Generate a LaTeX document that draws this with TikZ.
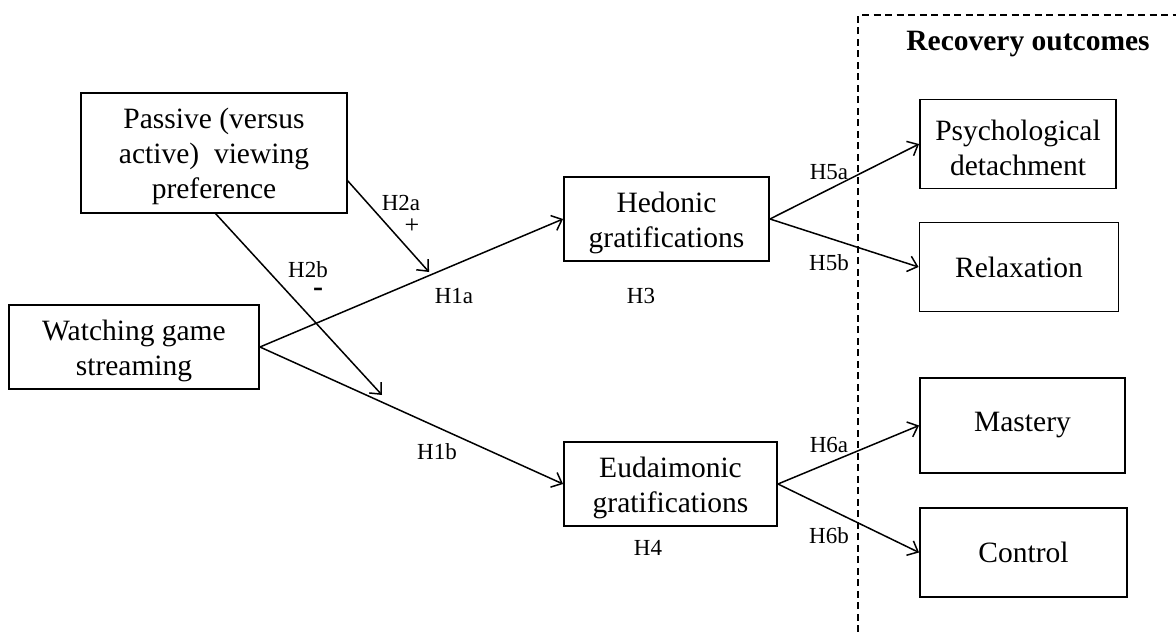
\documentclass[tikz,border=0pt]{standalone}
\usepackage{fontspec}
\setmainfont{Liberation Serif}
\usetikzlibrary{arrows.meta}
\newcommand\toprule{\rule{0pt}{28pt}}
\begin{document}
\begin{tikzpicture}[x=1pt,y=-1pt,
  box/.style={draw,line width=1.9pt,inner sep=0pt,align=center,font=\fontsize{29.5}{35}\selectfont},
  lbl/.style={inner sep=0pt,font=\fontsize{23}{26}\selectfont},
  arr/.style={line width=1.5pt,-{Straight Barb[length=9pt,width=16pt,line width=1.5pt]}},
  dsh/.style={line width=1.7pt,dash pattern=on 7pt off 4.5pt}]
\useasboundingbox (0,0) rectangle (1176,632);
\node[box,minimum width=266pt,minimum height=120pt] (pass) at (214,153) {\toprule Passive (versus\\active)\ \ viewing\\preference};
\node[box,minimum width=250pt,minimum height=84pt] (watch) at (134,347) {\toprule Watching game\\streaming};
\node[box,minimum width=205pt,minimum height=84pt] (hed) at (666.5,219) {\toprule Hedonic\\gratifications};
\node[box,minimum width=213pt,minimum height=84pt] (eud) at (670.5,484) {\toprule Eudaimonic\\gratifications};
\node[box,minimum width=196pt,minimum height=89pt] (psy) at (1018,144) {\toprule Psychological\\detachment};
\node[box,minimum width=199pt,minimum height=89pt] (rel) at (1019,267) {Relaxation};
\node[box,minimum width=205pt,minimum height=95pt] (mas) at (1022.5,425.5) {Mastery};
\node[box,minimum width=207pt,minimum height=89pt] (con) at (1023.5,552.5) {Control};
\node[inner sep=0pt,font=\fontsize{29.5}{35}\selectfont\bfseries] (rec) at (1028,44) {Recovery outcomes};
\coordinate (dtl) at (858,15);
\coordinate (dtr) at (1176,15);
\coordinate (dbl) at (858,632);
\draw[dsh] (dbl) -- (dtl) -- (dtr);
\coordinate (m1) at (429,272);
\coordinate (m2) at (382,395);
\coordinate (p1) at (347,180);
\coordinate (p2) at (215,213);
\draw[arr] (watch.east) -- (hed.west);
\draw[arr] (watch.east) -- (eud.west);
\draw[arr] (p1) -- (m1);
\draw[arr] (p2) -- (m2);
\draw[arr] (hed.east) -- (psy.west);
\draw[arr] (hed.east) -- (rel.west);
\draw[arr] (eud.east) -- (mas.west);
\draw[arr] (eud.east) -- (con.west);
\node[lbl] (h2a) at (401,203) {H2a};
\node[inner sep=0pt,font=\fontsize{26}{28}\selectfont] (plus) at (412,226) {+};
\node[lbl] (h2b) at (308,270) {H2b};
\node[inner sep=0pt,font=\fontsize{30}{30}\selectfont\bfseries] (minus) at (318,292) {-};
\node[lbl] (h1a) at (454,296) {H1a};
\node[lbl] (h3) at (641,296) {H3};
\node[lbl] (h1b) at (437,452) {H1b};
\node[lbl] (h4) at (648,548) {H4};
\node[lbl] (h5a) at (829,172) {H5a};
\node[lbl] (h5b) at (829,263) {H5b};
\node[lbl] (h6a) at (829,445) {H6a};
\node[lbl] (h6b) at (829,536) {H6b};
\end{tikzpicture}
\end{document}
